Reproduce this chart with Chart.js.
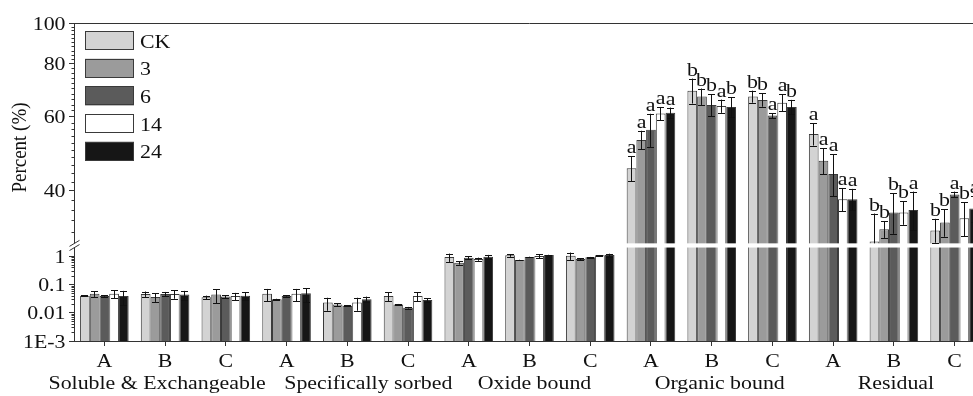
<!DOCTYPE html>
<html>
<head>
<meta charset="utf-8">
<script src="https://cdn.jsdelivr.net/npm/chart.js@4/dist/chart.umd.min.js"></script>
<style>
  html, body { margin: 0; padding: 0; background: #fff; overflow: hidden; }
  #wrap { position: relative; width: 990px; height: 396px; }
</style>
</head>
<body>
<div id="wrap"><canvas id="c" width="990" height="396"></canvas></div>
<script>
// ---- data ----
const categories = ['A','B','C','A','B','C','A','B','C','A','B','C','A','B','C'];
const fractions = ['Soluble & Exchangeable', 'Specifically sorbed', 'Oxide bound', 'Organic bound', 'Residual'];
const seriesNames = ['CK', '3', '6', '14', '24'];

const meanCK = [0.040, 0.046, 0.035, 0.047, 0.0227, 0.039, 0.92, 1.06, 1.03, 45.2, 69.1, 66.9, 54.5, 30.3, 32.2];
const sdCK   = [0.002, 0.010, 0.005, 0.022, 0.011, 0.014, 0.30, 0.12, 0.30, 3.1, 4.7, 2.2, 3.3, 5.0, 2.1];
const mean3  = [0.047, 0.036, 0.044, 0.030, 0.0193, 0.0193, 0.58, 0.72, 0.78, 52.8, 66.9, 65.7, 47.1, 32.4, 33.6];
const sd3    = [0.011, 0.012, 0.022, 0.001, 0.002, 0.001, 0.08, 0.02, 0.06, 2.7, 3.0, 2.4, 3.3, 1.5, 2.5];
const mean6  = [0.039, 0.046, 0.037, 0.039, 0.0177, 0.015, 0.87, 0.92, 0.90, 55.8, 63.9, 60.3, 43.8, 35.5, 39.2];
const sd6    = [0.002, 0.008, 0.004, 0.002, 0.001, 0.001, 0.10, 0.03, 0.03, 5.1, 3.8, 0.8, 5.0, 3.9, 0.6];
const mean14 = [0.047, 0.046, 0.039, 0.047, 0.0227, 0.039, 0.78, 1.00, 1.06, 61.0, 63.5, 64.7, 38.2, 35.5, 34.4];
const sd14   = [0.015, 0.015, 0.011, 0.022, 0.011, 0.014, 0.10, 0.15, 0.03, 2.2, 2.3, 3.0, 2.4, 2.3, 3.2];
const mean24 = [0.039, 0.044, 0.040, 0.049, 0.030, 0.028, 0.95, 1.08, 1.08, 61.2, 63.2, 63.2, 38.2, 36.0, 36.3];
const sd24   = [0.020, 0.015, 0.012, 0.025, 0.007, 0.005, 0.15, 0.03, 0.13, 1.8, 3.4, 2.5, 2.2, 3.8, 2.5];

const lettersCK = [null, null, null, null, null, null, null, null, null, 'a', 'b', 'b', 'a', 'b', 'b'];
const letters3  = [null, null, null, null, null, null, null, null, null, 'a', 'b', 'b', 'a', 'b', 'b'];
const letters6  = [null, null, null, null, null, null, null, null, null, 'a', 'b', 'a', 'a', 'b', 'a'];
const letters14 = [null, null, null, null, null, null, null, null, null, 'a', 'a', 'a', 'a', 'b', 'b'];
const letters24 = [null, null, null, null, null, null, null, null, null, 'a', 'b', 'b', 'a', 'a', 'a'];

const upperTicks = [40, 60, 80, 100];
const upperTickLabels = ['40', '60', '80', '100'];
const lowerTicks = [0.001, 0.01, 0.1, 1];
const lowerTickLabels = ['1E-3', '0.01', '0.1', '1'];

// ---- presentation ----
const means = [meanCK, mean3, mean6, mean14, mean24];
const sds = [sdCK, sd3, sd6, sd14, sd24];
const letters = [lettersCK, letters3, letters6, letters14, letters24];
const fills = ['#d3d3d3', '#9b9b9b', '#5b5b5b', '#ffffff', '#161616'];
const edge = '#3a3a3a';
const INK = '#111';
const FONT = '19px "Liberation Serif", "Times New Roman", serif';
const SX = 1.15;                       // wide-set serif lettering
const groupLabelShift = [-8, 21, 5, 8, 2];

// two log panels: lower 1E-3..~2, upper ~30..100, separated by a break
const LOW_MIN = 0.001, LOW_MAX = 2.36, LOW_BREAK = 2;
const UP_MIN = 29.65, UP_MAX = 100, UP_BREAK = 30;

const datasets = [];
means.forEach((m, i) => datasets.push({
  label: seriesNames[i], yAxisID: 'yLow', stack: 's' + i,
  data: m.map(v => Math.min(v, LOW_MAX)),
  backgroundColor: fills[i], borderColor: edge, borderWidth: 1
}));
means.forEach((m, i) => datasets.push({
  label: seriesNames[i], yAxisID: 'yHigh', stack: 's' + i,
  data: m.map(v => v > UP_MIN ? v : null),
  backgroundColor: fills[i], borderColor: edge, borderWidth: 1
}));

function alignX(v) { return Math.floor(v) + 0.5; }

function text(ctx, t, x, y, align) {
  ctx.save();
  ctx.translate(x, y);
  ctx.scale(SX, 1);
  ctx.textAlign = align || 'center';
  ctx.textBaseline = 'alphabetic';
  ctx.fillText(t, 0, 0);
  ctx.restore();
}

const decorations = {
  id: 'decorations',
  afterDatasetsDraw(chart) {
    const { ctx, chartArea: a, scales } = chart;
    const up = scales.yHigh, lo = scales.yLow, xs = scales.x;
    const gapTop = up.getPixelForValue(UP_BREAK);
    const gapBot = lo.getPixelForValue(LOW_BREAK);
    const xl = alignX(a.left);
    ctx.save();

    // break band across the bars
    ctx.fillStyle = '#fff';
    ctx.fillRect(a.left + 1, gapTop, a.right - a.left, gapBot - gapTop);

    // left axis with a gap, top frame line
    ctx.strokeStyle = '#333';
    ctx.lineWidth = 1;
    ctx.beginPath();
    ctx.moveTo(xl, a.top); ctx.lineTo(xl, gapTop);
    ctx.moveTo(xl, gapBot); ctx.lineTo(xl, a.bottom);
    ctx.moveTo(a.left, a.top + 0.5); ctx.lineTo(a.right, a.top + 0.5);
    ctx.stroke();

    // break marks
    ctx.beginPath();
    [gapTop, gapBot].forEach(g => {
      ctx.moveTo(xl - 5, g + 3); ctx.lineTo(xl + 5, g - 3);
    });
    ctx.stroke();

    // minor ticks
    ctx.beginPath();
    for (let v = 32; v < UP_MAX; v += 2) {
      if (upperTicks.includes(v)) continue;
      const y = Math.round(up.getPixelForValue(v)) + 0.5;
      ctx.moveTo(xl - 3, y); ctx.lineTo(xl, y);
    }
    for (let d = LOW_MIN; d < 1; d *= 10) {
      for (let k = 2; k <= 9; k++) {
        const y = Math.round(lo.getPixelForValue(d * k)) + 0.5;
        ctx.moveTo(xl - 3, y); ctx.lineTo(xl, y);
      }
    }
    ctx.stroke();

    ctx.fillStyle = INK;
    ctx.font = FONT;

    // y tick labels
    upperTicks.forEach((v, i) => text(ctx, upperTickLabels[i], a.left - 8.5, up.getPixelForValue(v) + 6.5, 'right'));
    lowerTicks.forEach((v, i) => text(ctx, lowerTickLabels[i], a.left - 8.5, lo.getPixelForValue(v) + 6.5, 'right'));

    // error bars and significance letters
    ctx.strokeStyle = INK;
    means.forEach((m, i) => {
      const meta = chart.getDatasetMeta(i);
      m.forEach((v, j) => {
        const bx = alignX(meta.data[j].x);
        const s = sds[i][j];
        const scale = v > UP_MIN ? up : lo;
        const floorPx = v > UP_MIN ? gapTop : a.bottom;
        const yTop = scale.getPixelForValue(v + s);
        const lowV = Math.max(v - s, scale.min);
        const yBot = Math.min(scale.getPixelForValue(lowV), floorPx);
        ctx.beginPath();
        ctx.moveTo(bx, yTop); ctx.lineTo(bx, yBot);
        ctx.moveTo(bx - 3.5, Math.round(yTop) + 0.5); ctx.lineTo(bx + 3.5, Math.round(yTop) + 0.5);
        if (yBot < floorPx) {
          ctx.moveTo(bx - 3.5, Math.round(yBot) + 0.5); ctx.lineTo(bx + 3.5, Math.round(yBot) + 0.5);
        }
        ctx.stroke();
        const t = letters[i][j];
        if (t) text(ctx, t, bx, yTop - 3);
      });
    });

    // category letters and fraction names
    categories.forEach((c, j) => text(ctx, c, xs.getPixelForValue(j), 367));
    fractions.forEach((f, g) => text(ctx, f, xs.getPixelForValue(3 * g + 1) + groupLabelShift[g], 389));

    // y-axis title
    ctx.save();
    ctx.translate(20.5, 147.5);
    ctx.rotate(-Math.PI / 2);
    ctx.scale(1, SX);
    ctx.textAlign = 'center';
    ctx.textBaseline = 'middle';
    ctx.fillText('Percent (%)', 0, 0);
    ctx.restore();

    // legend
    seriesNames.forEach((n, i) => {
      const by = 31 + i * 27.7;
      ctx.fillStyle = fills[i];
      ctx.fillRect(85, by, 49, 19);
      ctx.strokeStyle = edge;
      ctx.strokeRect(85.5, Math.round(by) + 0.5, 48, 18);
      ctx.fillStyle = INK;
      text(ctx, n, 140, by + 16.5, 'left');
    });
    ctx.restore();
  }
};

new Chart(document.getElementById('c'), {
  type: 'bar',
  data: { labels: categories, datasets },
  options: {
    responsive: false,
    animation: false,
    devicePixelRatio: 1,
    layout: { padding: { top: 23, left: 0, right: 5, bottom: 0 } },
    datasets: { bar: { barPercentage: 1, categoryPercentage: 0.8 } },
    plugins: { legend: { display: false }, tooltip: { enabled: false } },
    scales: {
      x: {
        type: 'category',
        grid: { display: true, drawOnChartArea: false, drawTicks: true, tickLength: 5, offset: false, color: '#333' },
        border: { display: true, color: '#333', width: 1 },
        ticks: { display: false, autoSkip: false },
        afterFit: s => { s.height = 55; }
      },
      yLow: {
        type: 'logarithmic', position: 'left', stack: 'v', stackWeight: 95.5, stacked: false,
        min: LOW_MIN, max: LOW_MAX,
        afterBuildTicks: s => { s.ticks = lowerTicks.map(v => ({ value: v })); },
        ticks: { display: false },
        grid: { display: true, drawOnChartArea: false, drawTicks: true, tickLength: 5, color: '#333' },
        border: { display: false },
        afterFit: s => { s.width = 74; }
      },
      yHigh: {
        type: 'logarithmic', position: 'left', stack: 'v', stackWeight: 222.5, stacked: false,
        min: UP_MIN, max: UP_MAX,
        afterBuildTicks: s => { s.ticks = upperTicks.map(v => ({ value: v })); },
        ticks: { display: false },
        grid: { display: true, drawOnChartArea: false, drawTicks: true, tickLength: 5, color: '#333' },
        border: { display: false },
        afterFit: s => { s.width = 74; }
      }
    }
  },
  plugins: [decorations]
});
</script>
</body>
</html>
